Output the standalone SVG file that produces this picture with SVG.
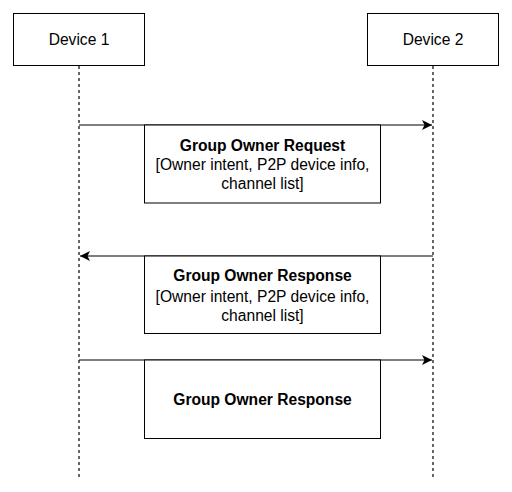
<svg xmlns="http://www.w3.org/2000/svg" width="512" height="492" viewBox="0 0 512 492">
<style>
.box{fill:#fff;stroke:#000;stroke-width:1}
.life{stroke:#000;stroke-width:1.2;stroke-dasharray:3 3;fill:none}
.msg{stroke:#000;stroke-width:1.2;fill:none}
text{font-family:"Liberation Sans",Arial,sans-serif;font-size:15.6px;fill:#000;text-anchor:middle}
.b{font-weight:bold}
</style>
<defs>
<marker id="arr" viewBox="0 0 10 10" refX="10" refY="5" markerWidth="10" markerHeight="10" markerUnits="userSpaceOnUse" orient="auto">
<path d="M0,0 L10,5 L0,10 L2.5,5 Z" fill="#000"/>
</marker>
</defs>
<g id="lifelines">
<path class="life" d="M79,66 V478"/>
<path class="life" d="M433,66 V478"/>
</g>
<g id="device1">
<rect class="box" x="13.5" y="13.5" width="131" height="52"/>
<text x="79" y="45">Device 1</text>
</g>
<g id="device2">
<rect class="box" x="367.5" y="13.5" width="131" height="52"/>
<text x="433" y="45">Device 2</text>
</g>
<g id="connectors">
<path class="msg" d="M79,125 H432" marker-end="url(#arr)"/>
<path class="msg" d="M433,256 H80" marker-end="url(#arr)"/>
<path class="msg" d="M79,360 H432" marker-end="url(#arr)"/>
</g>
<g id="msg1">
<rect class="box" x="144.5" y="125" width="236" height="78"/>
<text x="262.5" y="150.5" class="b">Group Owner Request</text>
<text x="262.5" y="170">[Owner intent, P2P device info,</text>
<text x="262.5" y="189">channel list]</text>
</g>
<g id="msg2">
<rect class="box" x="144.5" y="256" width="236" height="77.5"/>
<text x="262.5" y="281" class="b">Group Owner Response</text>
<text x="262.5" y="301.5">[Owner intent, P2P device info,</text>
<text x="262.5" y="320.5">channel list]</text>
</g>
<g id="msg3">
<rect class="box" x="144.5" y="360" width="236" height="78.5"/>
<text x="262.5" y="404.5" class="b">Group Owner Response</text>
</g>
</svg>
